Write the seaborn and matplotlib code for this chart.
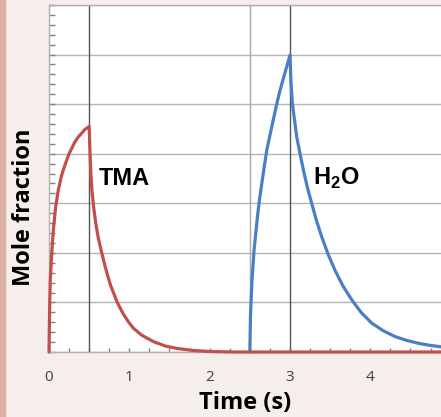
import numpy as np
import pandas as pd
import matplotlib
matplotlib.use("Agg")
import matplotlib.pyplot as plt
import seaborn as sns
from matplotlib.patches import Rectangle
from matplotlib.ticker import MultipleLocator

# TMA pulse
tma_time = [0.0, 0.009, 0.016, 0.034, 0.054, 0.083, 0.116, 0.158, 0.19, 0.22,
            0.25, 0.283, 0.32, 0.365, 0.41, 0.448, 0.5,
            0.51, 0.52, 0.535, 0.556, 0.58, 0.61, 0.656, 0.7, 0.739, 0.77, 0.85,
            0.92, 0.988, 1.05, 1.154, 1.3, 1.45, 1.6, 1.8, 2.0, 2.3, 3.0, 4.0, 4.88]
tma_frac = [0.0, 0.98, 1.45, 1.99, 2.46, 2.93, 3.27, 3.57, 3.73, 3.87,
            4.0, 4.11, 4.23, 4.34, 4.42, 4.49, 4.55,
            4.05, 3.62, 3.25, 2.92, 2.62, 2.33, 2.0, 1.72, 1.49, 1.33, 1.0,
            0.78, 0.61, 0.48, 0.34, 0.21, 0.12, 0.07, 0.03, 0.01, 0.0, 0.0, 0.0, 0.0]

# H2O pulse
h2o_time = [2.5, 2.508, 2.525, 2.553, 2.595, 2.62, 2.649, 2.68, 2.711, 2.742,
            2.773, 2.805, 2.836, 2.875, 2.918, 2.96, 3.0,
            3.013, 3.03, 3.084, 3.125, 3.167, 3.215, 3.27, 3.33, 3.396, 3.475,
            3.56, 3.66, 3.77, 3.89, 4.02, 4.16, 4.31, 4.45, 4.6, 4.74, 4.88]
h2o_frac = [0.0, 0.71, 1.38, 2.06, 2.73, 3.07, 3.40, 3.74, 4.07, 4.31,
            4.54, 4.78, 5.01, 5.27, 5.52, 5.76, 5.99,
            5.42, 5.01, 4.34, 4.0, 3.67, 3.33, 3.0, 2.65, 2.32, 1.97,
            1.65, 1.33, 1.05, 0.79, 0.58, 0.43, 0.31, 0.235, 0.175, 0.135, 0.105]

pulse_marks = [0.5, 2.5, 3.0]
x_ticks = [0, 1, 2, 3, 4]

df = pd.concat([
    pd.DataFrame({"time": h2o_time, "frac": h2o_frac, "species": "H2O"}),
    pd.DataFrame({"time": tma_time, "frac": tma_frac, "species": "TMA"}),
])

sns.set_style("white")
plt.rcParams["font.family"] = ["Open Sans", "DejaVu Sans"]
plt.rcParams["mathtext.fontset"] = "custom"
plt.rcParams["mathtext.bf"] = "Liberation Sans:bold"
plt.rcParams["mathtext.rm"] = "Liberation Sans:bold"

bg = "#f6eeeb"
fig = plt.figure(figsize=(4.41, 4.17), dpi=100, facecolor=bg)
fig.patches.append(Rectangle((0, 0), 5 / 441, 1, transform=fig.transFigure,
                             color="#dcb2a6", zorder=0))
ax = fig.add_axes([49 / 441, 1 - 352 / 417, 1 - 49 / 441, 347 / 417])
ax.set_facecolor("white")

# grid and pulse markers
ax.grid(axis="y", color="#b4b4b4", linewidth=1)
ax.grid(axis="x", visible=False)
for t, c in zip(pulse_marks, ["#555555", "#a8a8a8", "#555555"]):
    ax.axvline(t, color=c, linewidth=1, zorder=1)

sns.lineplot(data=df, x="time", y="frac", hue="species",
             palette={"TMA": "#c0504d", "H2O": "#4a7fc3"},
             hue_order=["H2O", "TMA"], linewidth=2.3, legend=False,
             ax=ax, zorder=3)
for ln in ax.lines:
    ln.set_clip_on(False)
    ln.set_solid_joinstyle("round")

ax.set_xlim(0, 4.88)
ax.set_ylim(0, 7.0)
ax.set_xticks(x_ticks)
ax.xaxis.set_minor_locator(MultipleLocator(0.25))
ax.yaxis.set_major_locator(MultipleLocator(1))
ax.yaxis.set_minor_locator(MultipleLocator(0.2))
ax.set_yticklabels([])
ax.tick_params(axis="x", which="both", bottom=True, direction="in", length=3,
               width=1, color="#808080", labelsize=11, labelcolor="#404040", pad=13)
ax.tick_params(axis="y", which="both", left=True, direction="in", length=4,
               width=1, color="#808080")

for side in ["left", "bottom", "top"]:
    ax.spines[side].set_color("#b0b0b0")
    ax.spines[side].set_linewidth(1)
ax.spines["right"].set_visible(False)

ax.text(0.623, 3.37, "TMA", fontsize=17, fontweight="bold", color="black",
        family=["Liberation Sans", "DejaVu Sans"], va="baseline", ha="left")
ax.text(3.29, 3.37, "H$_\\mathbf{2}$O", fontsize=17, fontweight="bold",
        color="black", family=["Liberation Sans", "DejaVu Sans"],
        va="baseline", ha="left")

ax.set_xlabel("Time (s)", fontsize=17, fontweight="bold", color="black",
              labelpad=4)
ax.set_ylabel("Mole fraction", fontsize=17, fontweight="bold", color="black")
ax.yaxis.set_label_coords(-0.033, 0.418)

fig.savefig("out.png", dpi=100, facecolor=bg)
